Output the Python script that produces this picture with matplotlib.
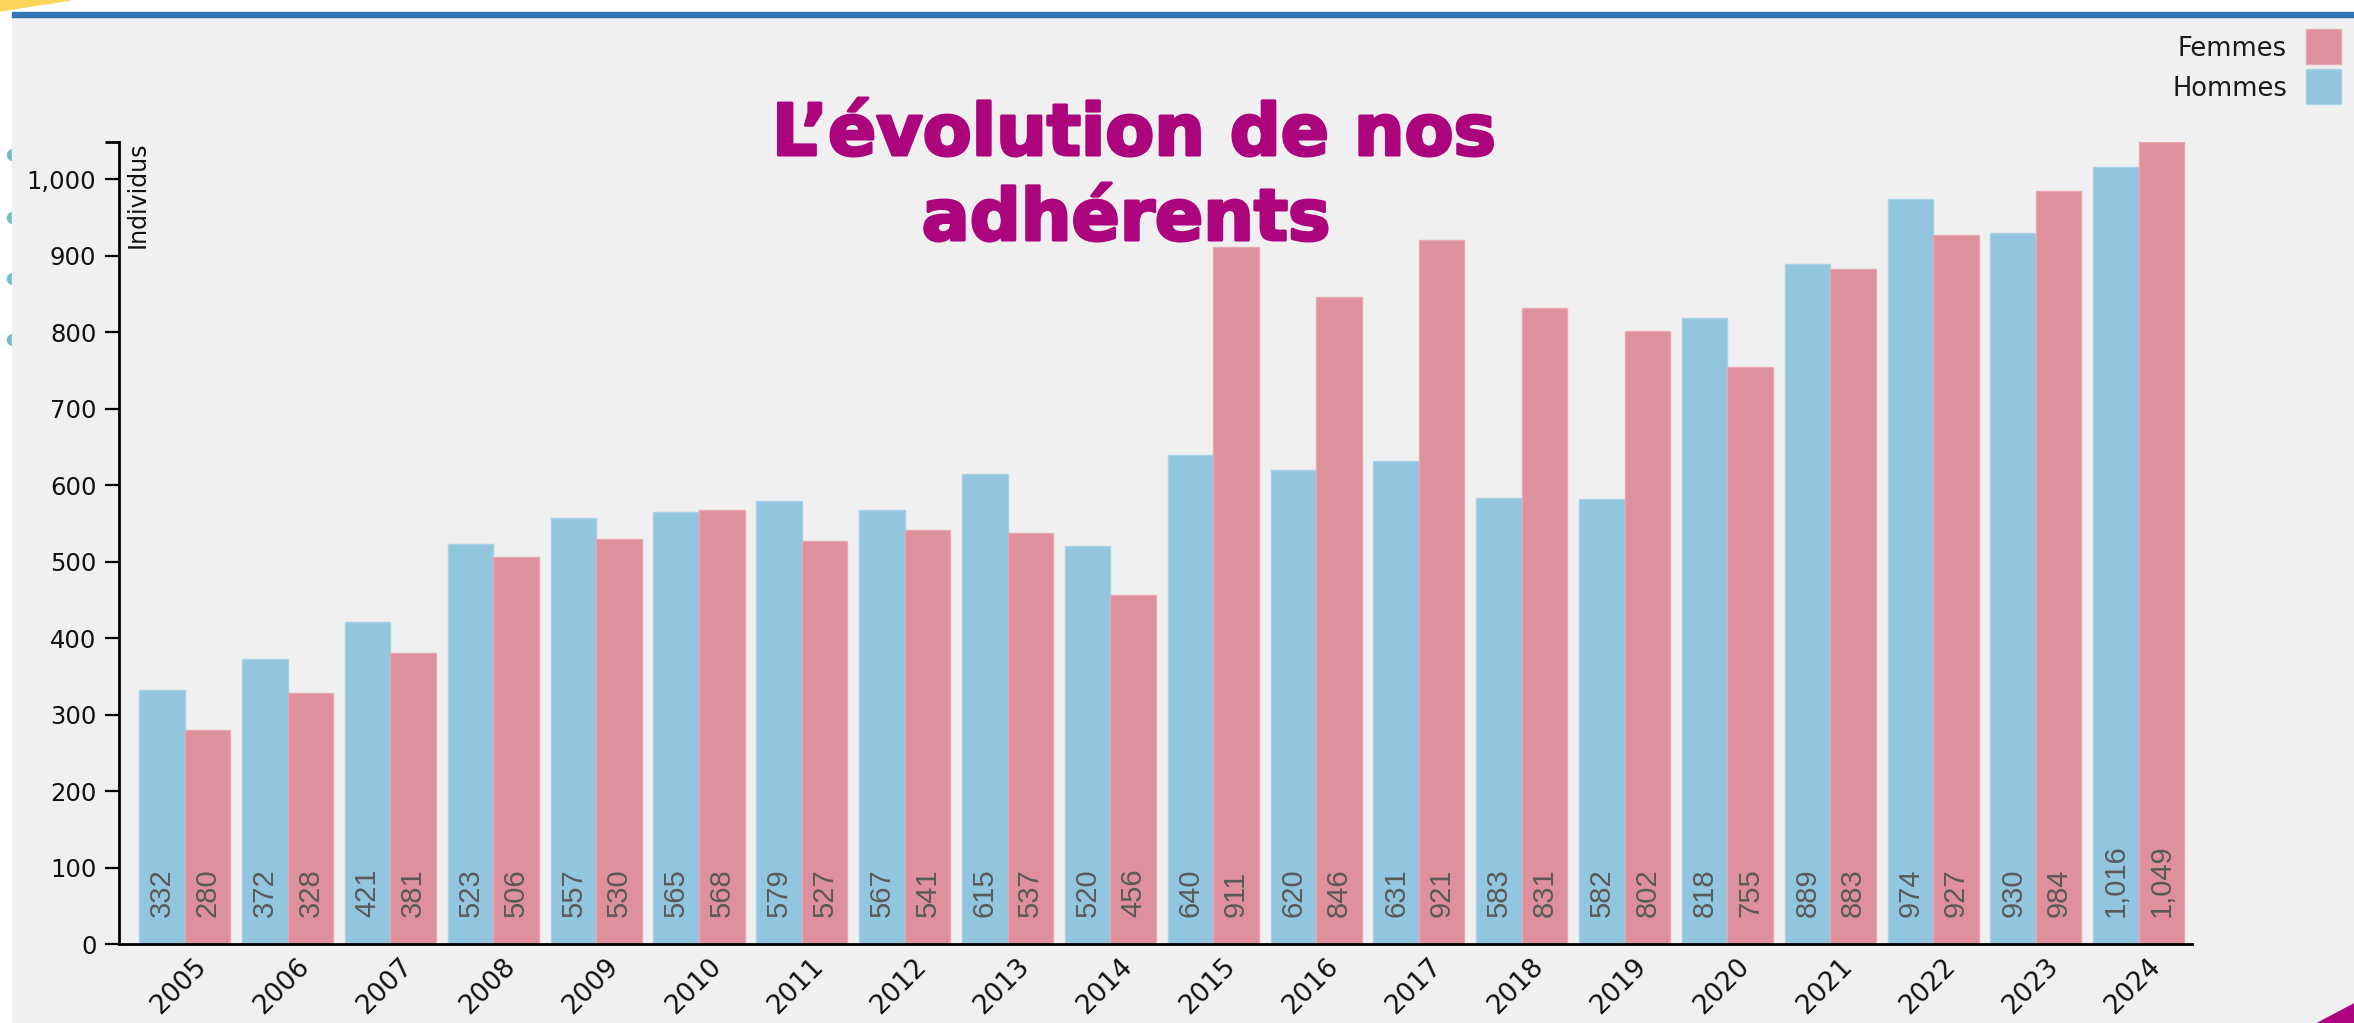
import matplotlib
matplotlib.use('Agg')
import matplotlib.pyplot as plt
import matplotlib.patheffects as pe
import numpy as np
from matplotlib.transforms import ScaledTranslation, offset_copy
from matplotlib.patches import Rectangle, Polygon, Circle
from matplotlib.ticker import FixedLocator, FuncFormatter

# ---------------- data ----------------
years = [str(y) for y in range(2005, 2025)]
hommes = [332, 372, 421, 523, 557, 565, 579, 567, 615, 520,
          640, 620, 631, 583, 582, 818, 889, 974, 930, 1016]
femmes = [280, 328, 381, 506, 530, 568, 527, 541, 537, 456,
          911, 846, 921, 831, 802, 755, 883, 927, 984, 1049]
y_ticks = list(range(0, 1001, 100))
legend_labels = ["Femmes", "Hommes"]
title_lines = ["L\u2019évolution de nos", "adhérents"]
y_label = "Individus"

# ---------------- style ----------------
W, H = 2354, 1023
DPI = 100
C_BLUE = '#92c5de'
C_PINK = '#de919c'
C_BLUE_E = '#a8d1e6'
C_PINK_E = '#e6a9b2'
C_BG = '#f0f0f0'
C_TITLE = '#ac047d'

fig = plt.figure(figsize=(W / DPI, H / DPI), dpi=DPI, facecolor='white')

def fx(x):
    return x / W

def fy(y):
    return 1 - y / H

# background layer in pixel coordinates (y downwards)
bg = fig.add_axes([0, 0, 1, 1], zorder=-10)
bg.set_xlim(0, W)
bg.set_ylim(H, 0)
bg.axis('off')
# decorative teal dots on left edge (mostly hidden by the panel)
for cy in [155, 218, 279, 340]:
    bg.add_patch(Circle((13, cy), 5.5, color='#74bcc4', zorder=0))
# yellow decoration top-left
bg.add_patch(Polygon([(0, 0), (70, 0), (0, 11)], closed=True, color='#ffd45a', zorder=0))
# grey panel
bg.add_patch(Rectangle((12, 16), W - 12, H - 16, color=C_BG, zorder=1))
# blue top rule
bg.add_patch(Rectangle((12, 12), W - 12, 4.5, color='#3276b6', zorder=2))
# magenta decoration bottom-right
bg.add_patch(Polygon([(2318, H), (2335, 1014), (2354, 1004), (2354, H)], closed=True,
                     color='#ac047d', zorder=3))

# ---------------- main axes ----------------
x0, x1 = 119.3, 2191.7
y0, y1 = 141.7, 944.0
ax = fig.add_axes([fx(x0), fy(y1), fx(x1) - fx(x0), (y1 - y0) / H], zorder=1)
ax.patch.set_visible(False)

x = np.arange(len(years))
bw = 0.4425
ax.bar(x - bw / 2, hommes, bw, color=C_BLUE, edgecolor=C_BLUE_E, linewidth=1.0, zorder=2)
ax.bar(x + bw / 2, femmes, bw, color=C_PINK, edgecolor=C_PINK_E, linewidth=1.0, zorder=2)

ymax = max(max(hommes), max(femmes))
ax.set_ylim(0, ymax)
ax.set_xlim(-0.637, 19.515)

# value labels inside bars
lab_tr = offset_copy(ax.transData, fig=fig, x=0, y=27, units='dots')
for i in range(len(years)):
    for xv, v in ((x[i] - bw / 2, hommes[i]), (x[i] + bw / 2, femmes[i])):
        ax.text(xv, 0, f"{v:,}", rotation=90, ha='center', va='bottom',
                transform=lab_tr, fontsize=21, color='#595959',
                family='Liberation Sans', zorder=3)

# spines
for s in ['top', 'right']:
    ax.spines[s].set_visible(False)
for s in ['left', 'bottom']:
    ax.spines[s].set_linewidth(2.0)
    ax.spines[s].set_color('black')

# y axis
ax.set_yticks(y_ticks)
ax.yaxis.set_major_formatter(FuncFormatter(lambda v, p: f"{int(v):,}"))
ax.yaxis.set_minor_locator(FixedLocator([ymax]))
ax.tick_params(axis='y', which='major', length=10, width=1.6, pad=6.5,
               labelsize=17.5, labelcolor='#111111')
ax.tick_params(axis='y', which='minor', length=10, width=2.0)

# x axis
ax.set_xticks(x)
ax.set_xticklabels(years, rotation=45, ha='right', va='top', rotation_mode='anchor')
ax.tick_params(axis='x', length=0, pad=7, labelsize=19, labelcolor='#111111')
shift = ScaledTranslation(9 / DPI, 0, fig.dpi_scale_trans)
for lab in ax.get_xticklabels():
    lab.set_transform(lab.get_transform() + shift)

# y label inside, next to axis top
fig.text(fx(126), fy(141), y_label, rotation=90, ha='left', va='top',
         fontsize=17, color='#111111')

# legend (manual)
leg_items = [(legend_labels[0], C_PINK, C_PINK_E, 29), (legend_labels[1], C_BLUE, C_BLUE_E, 69)]
for txt, col, ecol, top in leg_items:
    bg.add_patch(Rectangle((2306, top), 35, 35, facecolor=col, edgecolor=ecol,
                           linewidth=1, zorder=5))
    fig.text(fx(2287), fy(top + 17.5), txt, ha='right', va='center_baseline',
             fontsize=18.5, color='#1a1a1a')

# title, fitted to measured widths
renderer = fig.canvas.get_renderer()
targets = [(title_lines[0], 1134, 155), (title_lines[1], 1126, 240)]
base_fs = 60
t0 = fig.text(0, 0, title_lines[0], fontsize=base_fs, weight='bold', family='DejaVu Sans')
w0 = t0.get_window_extent(renderer=renderer).width
t0.remove()
fs = base_fs * 725 / w0
for txt, cx, by in targets:
    fig.text(fx(cx), fy(by), txt, ha='center', va='baseline', fontsize=fs,
             weight='bold', family='DejaVu Sans', color=C_TITLE, zorder=10,
             path_effects=[pe.Stroke(linewidth=2.2, foreground=C_TITLE), pe.Normal()])

fig.savefig('out.png', dpi=DPI, facecolor='white')
